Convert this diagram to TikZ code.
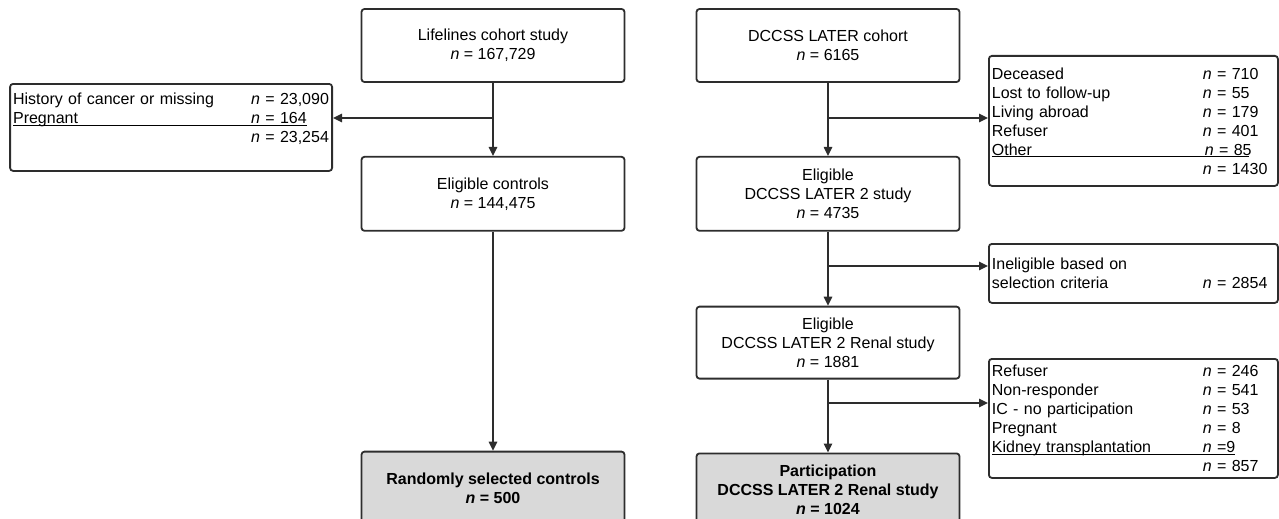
\documentclass[tikz,border=0pt]{standalone}
\usepackage{fontspec}
\setmainfont{Liberation Sans}
\usepackage{xcolor}
\usetikzlibrary{positioning,arrows.meta}
\definecolor{boxgray}{RGB}{217,217,217}
\definecolor{linegray}{RGB}{45,45,45}

\begin{document}
\begin{tikzpicture}[x=1pt,y=-1pt,->,>={Triangle[length=9pt,width=8.5pt]},line width=1.3pt,draw=linegray,
        main node/.style={rectangle,draw=linegray,line width=1.8pt,rounded corners=3pt,
          minimum width=263pt,align=center,inner sep=2pt,font=\fontsize{16}{19}\selectfont},
        end node/.style={main node,fill=boxgray,font=\fontsize{16}{19}\selectfont\bfseries},
        side node/.style={rectangle,draw=linegray,line width=1.8pt,rounded corners=3pt,
          align=left,inner xsep=3pt,inner ysep=2pt,font=\fontsize{16}{19}\selectfont}]

    \useasboundingbox (0,0) rectangle (1279,519);

    % controls
    \node[main node,minimum height=73pt] (life) at (493,45.5) {Lifelines cohort study\\\textit{n} = 167,729};
    \node[main node,minimum height=74pt] (ctrl) [below=73pt of life] {Eligible controls\\\textit{n} = 144,475};
    \node[end node,minimum height=73pt] (rand) [below=219pt of ctrl] {Randomly selected controls\\\textit{n} = 500};
    \node[side node,anchor=north east,text width=316pt,minimum height=87pt] (excl) at (333,83)
      {\makebox[238pt][l]{History of cancer or missing}\textit{n} = 23,090\\
       \underline{\smash{\makebox[238pt][l]{Pregnant}\textit{n} = 164}}\\
       \makebox[238pt][l]{}\textit{n} = 23,254\\ \mbox{}};

    % survivors
    \node[main node,minimum height=73pt] (coh) at (828,45.5) {DCCSS LATER cohort\\\textit{n} = 6165};
    \node[main node,minimum height=74pt] (el2) [below=73pt of coh] {Eligible\\DCCSS LATER 2 study\\\textit{n} = 4735};
    \node[main node,minimum height=72pt] (ren) [below=74pt of el2] {Eligible\\DCCSS LATER 2 Renal study\\\textit{n} = 1881};
    \node[end node,minimum height=73pt] (part) [below=73pt of ren] {Participation\\DCCSS LATER 2 Renal study\\\textit{n} = 1024};

    \node[side node,anchor=north west,text width=283pt,minimum height=130pt] (out1) at (988,55)
      {\makebox[211pt][l]{Deceased}\textit{n} = 710\\
       \makebox[211pt][l]{Lost to follow-up}\textit{n} = 55\\
       \makebox[211pt][l]{Living abroad}\textit{n} = 179\\
       \makebox[211pt][l]{Refuser}\textit{n} = 401\\
       \underline{\smash{\makebox[213pt][l]{Other}\makebox[44pt][l]{\textit{n} = 85}}}\\
       \makebox[211pt][l]{}\textit{n} = 1430};
    \node[side node,anchor=north west,text width=283pt,minimum height=59pt] (out2) at (988,243)
      {Ineligible based on\\
       \makebox[211pt][l]{selection criteria}\textit{n} = 2854};
    \node[side node,anchor=north west,text width=283pt,minimum height=119pt] (out3) at (988,358)
      {\makebox[211pt][l]{Refuser}\textit{n} = 246\\
       \makebox[211pt][l]{Non-responder}\textit{n} = 541\\
       \makebox[211pt][l]{IC - no participation}\textit{n} = 53\\
       \makebox[211pt][l]{Pregnant}\textit{n} = 8\\
       \underline{\smash{\makebox[211pt][l]{Kidney transplantation}\textit{n} =9}}\\
       \makebox[211pt][l]{}\textit{n} = 857};

    \coordinate (b1) at (493,118);
    \coordinate (b2) at (828,118);
    \coordinate (b3) at (828,266);
    \coordinate (b4) at (828,403);

    \path[draw=linegray]
    (life) edge (ctrl)
    (ctrl) edge (rand)
    (coh) edge (el2)
    (el2) edge (ren)
    (ren) edge (part);

    \draw[draw=linegray] (b1) -- (b1 -| excl.east);
    \draw[draw=linegray] (b2) -- (b2 -| out1.west);
    \draw[draw=linegray] (b3) -- (b3 -| out2.west);
    \draw[draw=linegray] (b4) -- (b4 -| out3.west);

\end{tikzpicture}
\end{document}
